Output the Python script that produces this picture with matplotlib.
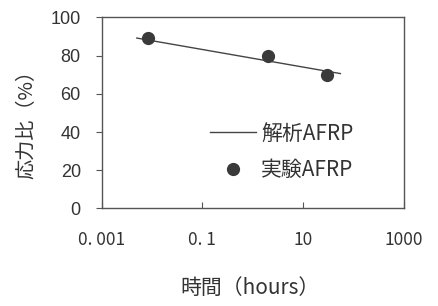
import numpy as np
import matplotlib.pyplot as plt

plt.rcParams['font.family'] = ['Noto Sans CJK JP', 'DejaVu Sans']

# 実験値
exp_t = [0.0085, 2.0, 30.0]
exp_r = [89, 80, 70]
# 解析値
ana_t = [0.005, 55.0]
ana_r = [89.2, 70.6]

xticks = [0.001, 0.1, 10, 1000]
xlabels = ['0. 001', '0. 1', '10', '1000']
yticks = [0, 20, 40, 60, 80, 100]

fig = plt.figure(figsize=(4.38, 3.06), dpi=100)
ax = fig.add_axes([0.232, 0.319, 0.69, 0.624])

ax.plot(ana_t, ana_r, color='#444444', lw=1.0, label='解析AFRP')
ax.plot(exp_t, exp_r, 'o', color='#3a3a3a', ms=8.5, label='実験AFRP')

ax.set_xscale('log')
ax.set_xlim(0.001, 1000)
ax.set_ylim(0, 100)
ax.set_xticks(xticks)
ax.set_xticklabels(xlabels, fontsize=12.5, color='#333333')
ax.minorticks_off()
ax.set_yticks(yticks)
ax.set_yticklabels([str(v) for v in yticks], fontsize=13, color='#333333',
                   family='Liberation Sans')
ax.tick_params(axis='x', direction='in', length=4, pad=16, color='#555555')
ax.tick_params(axis='y', direction='out', length=4, pad=11, color='#555555')
for s in ax.spines.values():
    s.set_color('#555555')
    s.set_linewidth(1.0)

fig.text(0.062, 0.61, '応力比（%）', rotation=90, ha='center', va='center',
         fontsize=14.5, color='#333333')
fig.text(0.571, 0.058, '時間（hours）', ha='center', va='center',
         fontsize=15, color='#333333')

leg = ax.legend(loc='lower right', bbox_to_anchor=(0.895, 0.045), frameon=False,
                fontsize=15, handlelength=2.2, labelspacing=0.7,
                handletextpad=0.25, labelcolor='#333333')

fig.savefig('out.png', dpi=100)
